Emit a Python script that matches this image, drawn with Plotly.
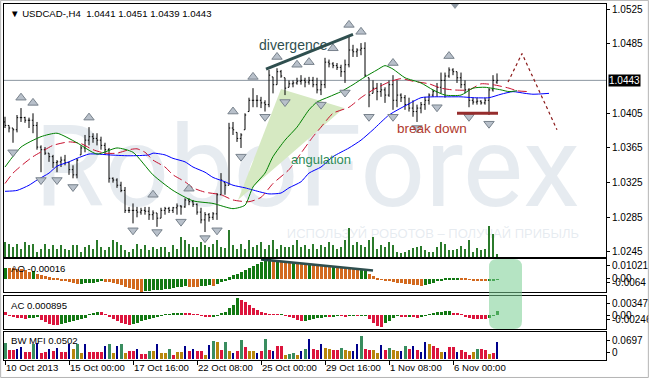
import plotly.graph_objects as go

W, H = 649, 379

def px(x):
    return x / W

def py(y):
    return 1 - y / H

# ---------------- data ----------------
tick_idx = [0, 16, 32, 48, 64, 80, 96, 112]
tick_text = ["10 Oct 2013", "15 Oct 00:00", "17 Oct 16:00", "22 Oct 08:00",
             "25 Oct 00:00", "29 Oct 16:00", "1 Nov 08:00", "6 Nov 00:00"]

opens = [
    1.0395, 1.0391, 1.0388, 1.0386, 1.0400, 1.0400, 1.0397, 1.0397, 1.0391, 1.0366,
    1.0363, 1.0359, 1.0355, 1.0348, 1.0349, 1.0351, 1.0348, 1.0340, 1.0334, 1.0357,
    1.0365, 1.0374, 1.0378, 1.0376, 1.0374, 1.0368, 1.0363, 1.0330, 1.0328, 1.0322,
    1.0316, 1.0293, 1.0293, 1.0293, 1.0291, 1.0293, 1.0292, 1.0288, 1.0290, 1.0284,
    1.0293, 1.0295, 1.0293, 1.0296, 1.0298, 1.0297, 1.0305, 1.0303, 1.0300, 1.0291,
    1.0282, 1.0288, 1.0285, 1.0289, 1.0311, 1.0325, 1.0322, 1.0388, 1.0383, 1.0376,
    1.0386, 1.0407, 1.0420, 1.0420, 1.0420, 1.0417, 1.0415, 1.0447, 1.0438, 1.0453,
    1.0446, 1.0435, 1.0439, 1.0440, 1.0442, 1.0443, 1.0441, 1.0443, 1.0438, 1.0432,
    1.0438, 1.0464, 1.0462, 1.0460, 1.0458, 1.0453, 1.0461, 1.0478, 1.0476, 1.0478,
    1.0480, 1.0446, 1.0428, 1.0434, 1.0430, 1.0432, 1.0426, 1.0438, 1.0420, 1.0426,
    1.0423, 1.0415, 1.0411, 1.0407, 1.0411, 1.0415, 1.0420, 1.0426, 1.0430, 1.0435,
    1.0443, 1.0448, 1.0455, 1.0453, 1.0446, 1.0438, 1.0432, 1.0420, 1.0418, 1.0419,
    1.0417, 1.0420, 1.0432, 1.0441]
highs = [
    1.0401, 1.0391, 1.0388, 1.0403, 1.0411, 1.0401, 1.0400, 1.0405, 1.0395, 1.0368,
    1.0366, 1.0359, 1.0357, 1.0351, 1.0355, 1.0357, 1.0349, 1.0345, 1.0353, 1.0368,
    1.0380, 1.0389, 1.0382, 1.0382, 1.0378, 1.0371, 1.0365, 1.0331, 1.0330, 1.0326,
    1.0320, 1.0297, 1.0301, 1.0297, 1.0296, 1.0297, 1.0297, 1.0293, 1.0290, 1.0296,
    1.0297, 1.0297, 1.0297, 1.0301, 1.0299, 1.0307, 1.0307, 1.0305, 1.0301, 1.0296,
    1.0291, 1.0290, 1.0291, 1.0313, 1.0336, 1.0325, 1.0394, 1.0395, 1.0383, 1.0382,
    1.0405, 1.0423, 1.0434, 1.0426, 1.0424, 1.0420, 1.0455, 1.0447, 1.0457, 1.0455,
    1.0446, 1.0443, 1.0443, 1.0446, 1.0449, 1.0446, 1.0447, 1.0447, 1.0446, 1.0443,
    1.0469, 1.0467, 1.0464, 1.0463, 1.0461, 1.0467, 1.0495, 1.0484, 1.0480, 1.0486,
    1.0487, 1.0446, 1.0443, 1.0440, 1.0440, 1.0435, 1.0443, 1.0449, 1.0443, 1.0428,
    1.0426, 1.0423, 1.0420, 1.0415, 1.0418, 1.0424, 1.0428, 1.0432, 1.0440, 1.0452,
    1.0452, 1.0458, 1.0457, 1.0453, 1.0452, 1.0443, 1.0434, 1.0423, 1.0423, 1.0420,
    1.0423, 1.0434, 1.0449, 1.0451]
lows = [
    1.0388, 1.0383, 1.0371, 1.0383, 1.0395, 1.0394, 1.0388, 1.0382, 1.0363, 1.0337,
    1.0357, 1.0349, 1.0342, 1.0337, 1.0343, 1.0345, 1.0334, 1.0330, 1.0330, 1.0357,
    1.0360, 1.0368, 1.0371, 1.0368, 1.0363, 1.0357, 1.0325, 1.0325, 1.0319, 1.0314,
    1.0290, 1.0290, 1.0278, 1.0285, 1.0288, 1.0288, 1.0282, 1.0282, 1.0274, 1.0284,
    1.0288, 1.0290, 1.0290, 1.0288, 1.0288, 1.0296, 1.0299, 1.0297, 1.0288, 1.0278,
    1.0268, 1.0280, 1.0282, 1.0282, 1.0311, 1.0311, 1.0322, 1.0380, 1.0372, 1.0365,
    1.0386, 1.0407, 1.0412, 1.0412, 1.0411, 1.0407, 1.0412, 1.0428, 1.0438, 1.0446,
    1.0426, 1.0435, 1.0435, 1.0438, 1.0438, 1.0435, 1.0438, 1.0435, 1.0428, 1.0426,
    1.0434, 1.0458, 1.0457, 1.0455, 1.0447, 1.0440, 1.0458, 1.0470, 1.0470, 1.0472,
    1.0447, 1.0412, 1.0428, 1.0420, 1.0424, 1.0417, 1.0424, 1.0409, 1.0412, 1.0418,
    1.0409, 1.0407, 1.0401, 1.0395, 1.0405, 1.0409, 1.0415, 1.0424, 1.0424, 1.0428,
    1.0423, 1.0446, 1.0449, 1.0440, 1.0434, 1.0428, 1.0412, 1.0415, 1.0415, 1.0415,
    1.0415, 1.0403, 1.0430, 1.0439]
closes = [
    1.0391, 1.0388, 1.0386, 1.0400, 1.0400, 1.0397, 1.0397, 1.0391, 1.0366, 1.0363,
    1.0359, 1.0355, 1.0348, 1.0349, 1.0351, 1.0348, 1.0340, 1.0334, 1.0351, 1.0365,
    1.0374, 1.0378, 1.0376, 1.0374, 1.0368, 1.0363, 1.0330, 1.0328, 1.0322, 1.0316,
    1.0293, 1.0293, 1.0293, 1.0291, 1.0293, 1.0292, 1.0288, 1.0290, 1.0284, 1.0293,
    1.0295, 1.0293, 1.0296, 1.0298, 1.0297, 1.0305, 1.0303, 1.0300, 1.0291, 1.0282,
    1.0288, 1.0285, 1.0289, 1.0311, 1.0328, 1.0322, 1.0388, 1.0386, 1.0376, 1.0380,
    1.0403, 1.0420, 1.0420, 1.0420, 1.0417, 1.0415, 1.0449, 1.0438, 1.0453, 1.0448,
    1.0434, 1.0439, 1.0440, 1.0442, 1.0443, 1.0441, 1.0443, 1.0438, 1.0432, 1.0438,
    1.0464, 1.0462, 1.0460, 1.0458, 1.0453, 1.0461, 1.0478, 1.0476, 1.0478, 1.0480,
    1.0449, 1.0426, 1.0434, 1.0430, 1.0432, 1.0426, 1.0438, 1.0420, 1.0426, 1.0423,
    1.0415, 1.0411, 1.0407, 1.0411, 1.0415, 1.0420, 1.0426, 1.0430, 1.0435, 1.0443,
    1.0448, 1.0455, 1.0453, 1.0446, 1.0438, 1.0432, 1.0420, 1.0418, 1.0419, 1.0417,
    1.0420, 1.0432, 1.0443, 1.0443]
volumes = [
    1500, 1300, 1000, 1300, 800, 1500, 1200, 1300, 500, 800,
    1300, 800, 1200, 800, 1200, 800, 700, 1200, 1200, 500,
    1000, 1200, 800, 1700, 1000, 700, 1000, 1700, 1500, 1200,
    700, 500, 800, 1300, 800, 1200, 700, 1000, 800, 1000,
    1000, 500, 1200, 800, 2000, 1700, 1300, 1000, 1000, 1500,
    1200, 1000, 1300, 1700, 1000, 900, 2700, 1200, 800, 1300,
    800, 1700, 1000, 1200, 1500, 800, 1200, 1700, 800, 1200,
    1000, 1000, 1200, 1700, 1000, 1200, 800, 1300, 800, 1200,
    1000, 1500, 1200, 800, 1000, 1700, 2900, 1200, 1500, 1200,
    1000, 1700, 2000, 800, 1200, 1000, 1500, 1200, 500, 400,
    500, 700, 900, 1000, 1100, 700, 500, 500, 1000, 1500,
    1300, 700, 700, 800, 1100, 800, 1700, 500, 900, 700,
    800, 3100, 2300, 300]
ao = [
    0.00583, 0.00578, 0.00559, 0.00535, 0.00525, 0.00462, 0.00389, 0.00413, 0.00292, 0.00194,
    0.00170, 0.00097, 0.00073, 0.00015, -0.00046, -0.00087, -0.00145, -0.00203, -0.00244, -0.00232,
    -0.00220, -0.00203, -0.00180, -0.00151, -0.00116, -0.00128, -0.00151, -0.00203, -0.00261, -0.00319,
    -0.00394, -0.00464, -0.00522, -0.00580, -0.00640, -0.00621, -0.00603, -0.00580, -0.00557, -0.00534,
    -0.00510, -0.00481, -0.00452, -0.00423, -0.00394, -0.00365, -0.00377, -0.00394, -0.00406, -0.00360,
    -0.00348, -0.00319, -0.00331, -0.00232, -0.00145, -0.00058, 0.00097, 0.00194, 0.00292, 0.00389,
    0.00486, 0.00583, 0.00680, 0.00778, 0.00875, 0.00972, 0.01021, 0.00987, 0.00996, 0.00948,
    0.00899, 0.00875, 0.00885, 0.00851, 0.00826, 0.00802, 0.00807, 0.00778, 0.00753, 0.00729,
    0.00705, 0.00680, 0.00690, 0.00656, 0.00622, 0.00583, 0.00559, 0.00535, 0.00460, 0.00470,
    0.00480, 0.00292, 0.00146, 0.00049, -0.00029, -0.00058, -0.00087, -0.00145, -0.00174, -0.00203,
    -0.00232, -0.00261, -0.00290, -0.00319, -0.00331, -0.00290, -0.00232, -0.00174, -0.00116, -0.00058,
    0.00015, 0.00029, 0.00039, 0.00049, 0.00034, 0.00015, -0.00029, -0.00058, -0.00087, -0.00104,
    -0.00116, -0.00087, -0.00046, -0.00016]
ac = [
    0.0006, -0.0002, -0.0004, -0.0005, -0.0006, -0.0007, -0.0006, -0.0005, -0.0004, -0.0010,
    -0.0014, -0.0017, -0.0019, -0.0020, -0.0018, -0.0016, -0.0014, -0.0012, -0.0010, -0.0008,
    -0.0006, 0.0002, 0.0005, 0.0007, 0.0006, 0.0002, -0.0004, -0.0008, -0.0012, -0.0015,
    -0.0018, -0.0020, -0.0018, -0.0015, -0.0012, -0.0010, -0.0008, -0.0006, -0.0004, -0.0002,
    0.0001, 0.0002, 0.00024, 0.00028, 0.0003, 0.00028, 0.00024, 0.0002, 0.0001, -0.0002,
    -0.0003, -0.0004, -0.0003, -0.0001, 0.00034, 0.00066, 0.00134, 0.0020, 0.003478, 0.0030,
    0.0026, 0.0020, 0.0014, 0.0010, 0.0006, 0.0003, 0.00016, 0.0001, 0.00006, 0.0001,
    -0.0001, -0.0003, -0.0006, -0.0010, -0.0012, -0.00116, -0.0010, -0.0008, -0.0006, -0.0005,
    -0.0003, -0.00036, -0.00024, -0.0001, -0.00016, -0.00024, -0.00012, -0.00006, -0.0002, -0.0001,
    -0.00004, -0.0008, -0.0016, -0.0022, -0.00246, -0.0016, -0.0012, -0.0006, -0.0002, -0.0003,
    -0.0004, -0.0003, -0.0004, -0.0005, -0.0004, -0.0002, 0.0002, 0.0004, 0.0006, 0.0007,
    0.00074, 0.00076, 0.0005, 0.0003, 0.0001, -0.0003, -0.0006, -0.0007, -0.00076, -0.00078,
    -0.0008, -0.0006, -0.0002, 0.000895]
mfi = [
    0.048, 0.027, 0.027, 0.030, 0.036, 0.021, 0.021, 0.045, 0.048, 0.018,
    0.021, 0.030, 0.024, 0.033, 0.021, 0.021, 0.045, 0.030, 0.045, 0.018,
    0.045, 0.021, 0.021, 0.021, 0.021, 0.039, 0.045, 0.018, 0.039, 0.045,
    0.018, 0.024, 0.024, 0.030, 0.015, 0.015, 0.024, 0.024, 0.045, 0.018,
    0.018, 0.030, 0.012, 0.021, 0.021, 0.039, 0.024, 0.030, 0.024, 0.024,
    0.012, 0.042, 0.054, 0.051, 0.027, 0.051, 0.024, 0.018, 0.024, 0.057,
    0.036, 0.024, 0.024, 0.018, 0.024, 0.060, 0.027, 0.024, 0.039, 0.039,
    0.012, 0.015, 0.018, 0.012, 0.024, 0.030, 0.060, 0.030, 0.027, 0.045,
    0.033, 0.030, 0.027, 0.027, 0.033, 0.027, 0.024, 0.024, 0.045, 0.0697,
    0.030, 0.027, 0.027, 0.018, 0.042, 0.027, 0.033, 0.027, 0.024, 0.024,
    0.039, 0.030, 0.039, 0.027, 0.021, 0.051, 0.045, 0.039, 0.033, 0.021,
    0.021, 0.036, 0.036, 0.021, 0.027, 0.021, 0.012, 0.021, 0.030, 0.030,
    0.027, 0.015, 0.018, 0.0502]
mfi_kind = list(
    "grrbbrrgbr" "rbrbrrbogo" "brrrrbgobg" "orrbrrgobo" "ogroobrbrr"
    "obgorgobrg" "roobrgrbrr" "oggobgbrrb" "oorrgoobbg" "rroobrgoob"
    "grbrbborro" "brrbrrrogr" "rorb")

# Alligator lines (forward-shifted beyond last bar)
lips_x = [0, 4, 9, 13, 18, 23, 28, 32, 37, 42, 47, 52, 57, 60, 62, 65, 67, 70, 73, 76,
          78, 81, 84, 87, 90, 93, 95, 97, 100, 104, 107, 110, 114, 117, 120, 124, 126, 128]
lips_y = [1.0343, 1.0366, 1.0378, 1.0382, 1.0371, 1.0358, 1.0365, 1.0360, 1.0334, 1.0316,
          1.0304, 1.0301, 1.0295, 1.0299, 1.0320, 1.0336, 1.0355, 1.0374, 1.0389, 1.0409,
          1.0418, 1.0424, 1.0430, 1.0438, 1.0447, 1.0455, 1.0460, 1.0456, 1.0446, 1.0440,
          1.0432, 1.0426, 1.0426, 1.0434, 1.0435, 1.0432, 1.0430, 1.0431]
teeth_x = [0, 2, 5, 7, 10, 12, 16, 19, 22, 25, 28, 31, 33, 35, 37, 40, 42, 45, 47, 50,
           54, 57, 61, 64, 67, 71, 74, 77, 79, 82, 86, 89, 92, 96, 99, 102, 106, 109, 112, 116,
           119, 122, 126, 128, 131]
teeth_y = [1.0324, 1.0336, 1.0348, 1.0355, 1.0363, 1.0368, 1.0372, 1.0370, 1.0363, 1.0359,
           1.0359, 1.0363, 1.0364, 1.0360, 1.0351, 1.0343, 1.0334, 1.0326, 1.0319, 1.0314,
           1.0311, 1.0305, 1.0303, 1.0308, 1.0324, 1.0340, 1.0359, 1.0378, 1.0389, 1.0405,
           1.0412, 1.0423, 1.0432, 1.0441, 1.0445, 1.0442, 1.0439, 1.0434, 1.0432, 1.0432,
           1.0439, 1.0438, 1.0434, 1.0431, 1.0430]
jaw_x = [0, 3, 6, 8, 11, 13, 16, 18, 21, 23, 26, 31, 36, 37, 40, 42, 45, 47, 50, 52,
         55, 57, 60, 64, 66, 69, 71, 74, 76, 79, 82, 86, 89, 92, 96, 101, 104, 107, 111, 114,
         117, 121, 124, 127, 130, 132, 136]
jaw_y = [1.0315, 1.0316, 1.0322, 1.0328, 1.0336, 1.0344, 1.0349, 1.0353, 1.0358, 1.0358,
         1.0357, 1.0356, 1.0357, 1.0359, 1.0357, 1.0353, 1.0349, 1.0343, 1.0337, 1.0331,
         1.0326, 1.0322, 1.0319, 1.0314, 1.0312, 1.0313, 1.0319, 1.0326, 1.0336, 1.0343,
         1.0355, 1.0365, 1.0374, 1.0386, 1.0403, 1.0416, 1.0423, 1.0424, 1.0424, 1.0424,
         1.0423, 1.0423, 1.0427, 1.0430, 1.0428, 1.0427, 1.0428]

frac_up_x = [4, 7, 21, 37, 46, 57, 62, 68, 73, 76, 82, 86, 89, 97, 111]
frac_up_y = [1.0423, 1.0417, 1.0400, 1.0311, 1.0318, 1.0407, 1.0447, 1.0470, 1.0461,
             1.0464, 1.0480, 1.0507, 1.0499, 1.0463, 1.0471]
frac_dn_x = [2, 9, 13, 17, 32, 38, 44, 50, 53, 59, 65, 70, 79, 85, 91, 97, 103, 108, 116, 121]
frac_dn_y = [1.0360, 1.0328, 1.0328, 1.0320, 1.0270, 1.0268, 1.0280, 1.0261, 1.0270,
             1.0355, 1.0401, 1.0418, 1.0415, 1.0429, 1.0401, 1.0401, 1.0388, 1.0412,
             1.0401, 1.0393]

price_ticks = [1.0525, 1.0485, 1.0405, 1.0365, 1.0325, 1.0285, 1.0245]

# hand-drawn analysis marks (bar index, price)
div_x, div_y = [65.25, 87], [1.0456, 1.0496]
ao_div_x, ao_div_y = [64, 92], [0.0102, 0.0045]
ang_x, ang_y = [58.25, 69, 84.75], [1.0305, 1.0433, 1.0411]
brk_x, brk_y = [113, 123.25], [1.0405, 1.0405]
proj_x, proj_y = [125.75, 129.25, 138], [1.0441, 1.0474, 1.0386]

# ---------------- styling ----------------
n = len(closes)
idx = list(range(n))
FONT = "Liberation Sans, Arial, sans-serif"
GREEN = "#127812"
ORANGE = "#D2691E"
CRIMSON = "#DC143C"
MFI_COL = {"g": "#3A8D5F", "o": "#B8860B", "r": "#DC143C", "b": "#00008B"}
DSG = "#2F4F4F"

ao_col = [GREEN if i == 0 or ao[i] > ao[i - 1] else ORANGE for i in range(n)]
ac_col = [CRIMSON if i == 0 else (GREEN if ac[i] > ac[i - 1] else CRIMSON) for i in range(n)]
mfi_col = [MFI_COL[k] for k in mfi_kind]
mfi_w = [0.25 if k == "b" else 0.75 for k in mfi_kind]

XR = [-0.25, 150.25]
PR = [1.02392, 1.05311]
AOR = [-0.0066, 0.0104]
ACR = [-0.0028, 0.0038]
MFR = [-0.003, 0.081]
VR = [0, 25300]
XD = [px(4), px(606)]

fig = go.Figure()

# base layer: watermark + angulation zone
fig.add_trace(go.Scatter(x=[75.5], y=[1.0331], mode="text", text=["RoboForex"],
                         textfont=dict(family="Roboto, sans-serif", size=114,
                                       color="rgba(190,202,216,0.38)"),
                         xaxis="x", yaxis="y", hoverinfo="skip"))
fig.add_trace(go.Scatter(x=[107], y=[1.0265], mode="text",
                         text=["ИСПОЛЬЗУЙ РОБОТОВ – ПОЛУЧАЙ ПРИБЫЛЬ"],
                         textfont=dict(family=FONT, size=13, color="rgba(190,202,216,0.38)"),
                         xaxis="x", yaxis="y", hoverinfo="skip"))
fig.add_trace(go.Scatter(x=ang_x, y=ang_y, mode="lines", fill="toself",
                         fillcolor="#d6e9c2", line=dict(width=0),
                         xaxis="x", yaxis="y", hoverinfo="skip"))

# volumes (overlay)
fig.add_trace(go.Bar(x=idx, y=volumes, width=0.28, marker=dict(color="#2b7a2b", line=dict(width=0)),
                     xaxis="x", yaxis="y5", hoverinfo="skip"))

# prices (overlay)
fig.add_trace(go.Ohlc(x=idx, open=opens, high=highs, low=lows, close=closes,
                      increasing=dict(line=dict(color="black", width=1)),
                      decreasing=dict(line=dict(color="black", width=1)),
                      tickwidth=0.3, xaxis="x", yaxis="y6", hoverinfo="skip"))
fig.add_trace(go.Scatter(x=jaw_x, y=jaw_y, mode="lines", line=dict(color="#0000FF", width=1, shape="spline", smoothing=0.6),
                         xaxis="x", yaxis="y6", hoverinfo="skip"))
fig.add_trace(go.Scatter(x=teeth_x, y=teeth_y, mode="lines",
                         line=dict(color="#C8102E", width=1, dash="9px,4px", shape="spline", smoothing=0.6),
                         xaxis="x", yaxis="y6", hoverinfo="skip"))
fig.add_trace(go.Scatter(x=lips_x, y=lips_y, mode="lines", line=dict(color="#008000", width=1, shape="spline", smoothing=0.6),
                         xaxis="x", yaxis="y6", hoverinfo="skip"))
fig.add_trace(go.Scatter(x=frac_up_x, y=frac_up_y, mode="markers",
                         marker=dict(symbol="triangle-up", size=9, color="#b8c0ca",
                                     line=dict(color="#78828c", width=1)),
                         xaxis="x", yaxis="y6", hoverinfo="skip"))
fig.add_trace(go.Scatter(x=frac_dn_x, y=frac_dn_y, mode="markers",
                         marker=dict(symbol="triangle-down", size=9, color="#b8c0ca",
                                     line=dict(color="#78828c", width=1)),
                         xaxis="x", yaxis="y6", hoverinfo="skip"))
fig.add_trace(go.Scatter(x=div_x, y=div_y, mode="lines", line=dict(color=DSG, width=3),
                         xaxis="x", yaxis="y6", hoverinfo="skip"))
fig.add_trace(go.Scatter(x=brk_x, y=brk_y, mode="lines", line=dict(color="#962D2D", width=3),
                         xaxis="x", yaxis="y6", hoverinfo="skip"))
fig.add_trace(go.Scatter(x=proj_x, y=proj_y, mode="lines", line=dict(color="#8B1A1A", width=1.2, dash="dot"),
                         xaxis="x", yaxis="y6", hoverinfo="skip"))

# oscillators
fig.add_trace(go.Bar(x=idx, y=ao, width=0.75, marker=dict(color=ao_col, line=dict(width=0)),
                     xaxis="x2", yaxis="y2", hoverinfo="skip"))
fig.add_trace(go.Scatter(x=ao_div_x, y=ao_div_y, mode="lines", line=dict(color=DSG, width=2.5),
                         xaxis="x2", yaxis="y2", hoverinfo="skip"))
fig.add_trace(go.Bar(x=idx, y=ac, width=0.75, marker=dict(color=ac_col, line=dict(width=0)),
                     xaxis="x3", yaxis="y3", hoverinfo="skip"))
fig.add_trace(go.Bar(x=idx, y=mfi, width=mfi_w, marker=dict(color=mfi_col, line=dict(width=0)),
                     xaxis="x4", yaxis="y4", hoverinfo="skip"))

axis_common = dict(showline=True, linecolor="black", linewidth=1, mirror=True,
                   showgrid=False, zeroline=False, automargin=False)
tickfont = dict(family=FONT, size=10, color="black")

def xax(anchor, show):
    d = dict(axis_common, domain=XD, range=XR, anchor=anchor, fixedrange=True)
    if show:
        d.update(tickvals=tick_idx, ticktext=tick_text, ticks="outside", ticklen=4,
                 tickcolor="black", tickfont=dict(family=FONT, size=9.6, color="black"),
                 ticklabelposition="outside right", ticklabelstandoff=-2)
    else:
        d.update(showticklabels=False, ticks="")
    return d

def yax(dom, rng, tv, tt, anchor):
    return dict(axis_common, domain=dom, range=rng, anchor=anchor,
                side="right", tickvals=tv, ticktext=tt, ticks="outside", ticklen=3,
                tickcolor="black", tickfont=tickfont, fixedrange=True)

main_dom = [py(257), py(4)]
ao_dom = [py(292), py(259)]
ac_dom = [py(329), py(296)]
mfi_dom = [py(360), py(332)]

ya = yax(main_dom, PR, price_ticks, [f"{v:.4f}" for v in price_ticks], "x")
y2 = yax(ao_dom, AOR, [0.0068, 0.00061, -0.00196], ["0.01021", "0.00", "-0.0064"], "x2")
y3 = yax(ac_dom, ACR, [0.0024, 0.0, -0.0009], ["0.003478", "0.00", "-0.00246"], "x3")
y4 = yax(mfi_dom, MFR, [0.057, 0.021], ["0.0697", "0"], "x4")

xa = xax("y", False)
xa["rangeslider"] = dict(visible=False)
x2 = xax("y2", False); x2["matches"] = "x"
x3 = xax("y3", False); x3["matches"] = "x"
x4 = xax("y4", True); x4["matches"] = "x"

# rounded highlight over AO/AC (paper coords)
x0, x1 = px(489), px(522)
yt, yb = py(259), py(329)
rx, ry = 8 / W, 8 / H
rpath = (f"M{x0+rx},{yt} L{x1-rx},{yt} Q{x1},{yt} {x1},{yt-ry} L{x1},{yb+ry} "
         f"Q{x1},{yb} {x1-rx},{yb} L{x0+rx},{yb} Q{x0},{yb} {x0},{yb+ry} "
         f"L{x0},{yt-ry} Q{x0},{yt} {x0+rx},{yt} Z")

shapes = [
    dict(type="line", xref="x", yref="y", x0=XR[0], x1=XR[1], y0=closes[-1], y1=closes[-1],
         line=dict(color="#8c96a0", width=1), layer="below"),
    dict(type="path", xref="paper", yref="paper", path=rpath,
         fillcolor="rgba(120,206,146,0.55)", line=dict(width=0), layer="above"),
    dict(type="path", xref="paper", yref="paper",
         path=f"M{px(451)},{py(4)} L{px(459)},{py(4)} L{px(455)},{py(9)} Z",
         fillcolor="#8f99a3", line=dict(width=0), layer="above"),
    dict(type="rect", xref="paper", yref="paper", x0=0.001, x1=0.999, y0=0.004, y1=0.999,
         line=dict(color="#b4b4b4", width=1), fillcolor="rgba(0,0,0,0)", layer="above"),
]

hdr = (f"▼ USDCAD-,H4  {opens[-1]:.4f} {highs[-1]:.4f} {lows[-1]:.4f} {closes[-1]:.4f}")
annotations = [
    dict(xref="paper", yref="paper", x=px(8), y=py(13), text=hdr, showarrow=False,
         xanchor="left", yanchor="middle", font=dict(family=FONT, size=9.6, color="black")),
    dict(xref="paper", yref="paper", x=px(9), y=py(268.5), text=f"AO {ao[-1]:.5f}", showarrow=False,
         xanchor="left", yanchor="middle", font=dict(family=FONT, size=9.6, color="black")),
    dict(xref="paper", yref="paper", x=px(9), y=py(305.5), text=f"AC {ac[-1]:.6f}", showarrow=False,
         xanchor="left", yanchor="middle", font=dict(family=FONT, size=9.6, color="black")),
    dict(xref="paper", yref="paper", x=px(9), y=py(340.5), text=f"BW MFI {mfi[-1]:.4f}", showarrow=False,
         xanchor="left", yanchor="middle", font=dict(family=FONT, size=9.6, color="black")),
    dict(xref="paper", yref="paper", x=px(293), y=py(35), text="divergence", showarrow=False,
         font=dict(family=FONT, size=14, color=DSG)),
    dict(xref="paper", yref="paper", x=px(321), y=py(159), text="angulation", showarrow=False,
         font=dict(family=FONT, size=13, color="#2E8B57")),
    dict(xref="paper", yref="paper", x=px(469), y=py(128), text="break down", showarrow=False,
         font=dict(family=FONT, size=13.5, color="#B03A2E")),
    dict(xref="paper", yref="y", x=px(608), y=closes[-1], text=f"{closes[-1]:.4f}", showarrow=False,
         xanchor="left", yanchor="middle", bgcolor="black", borderpad=0,
         font=dict(family=FONT, size=10, color="white")),
]

fig.update_layout(
    width=W, height=H, margin=dict(l=0, r=0, t=0, b=0),
    template="none", paper_bgcolor="white", plot_bgcolor="white",
    showlegend=False, hovermode=False, bargap=0,
    xaxis=xa, xaxis2=x2, xaxis3=x3, xaxis4=x4,
    yaxis=ya, yaxis2=y2, yaxis3=y3, yaxis4=y4,
    yaxis5=dict(overlaying="y", range=VR, visible=False, anchor="x", fixedrange=True),
    yaxis6=dict(overlaying="y", range=PR, visible=False, anchor="x", fixedrange=True),
    shapes=shapes, annotations=annotations,
)

fig.write_html("out.html", config={"displayModeBar": False},
               post_script="document.body.style.margin='0';document.body.style.overflow='hidden';")
